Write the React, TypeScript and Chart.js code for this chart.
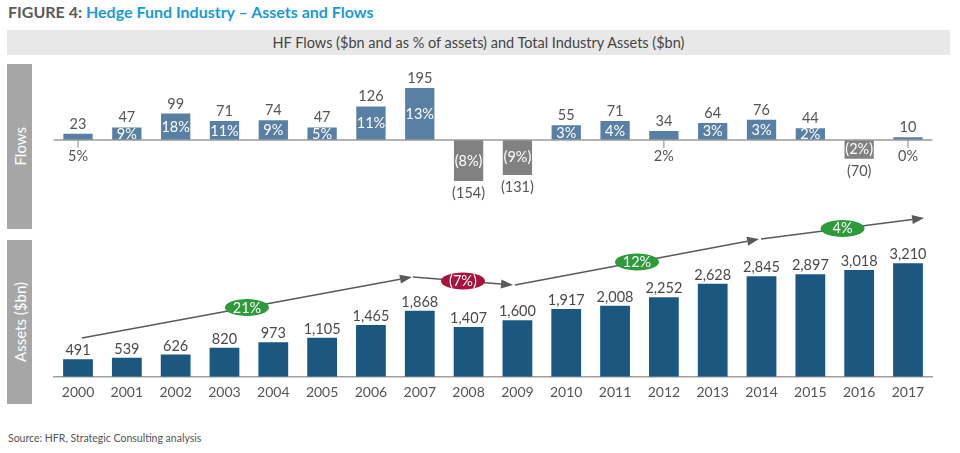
import React, { useEffect, useRef } from 'react';
import { Chart, registerables } from 'chart.js';

Chart.register(...registerables);

const FONT = 'Lato, "Noto Sans", sans-serif';

const years = ['2000', '2001', '2002', '2003', '2004', '2005', '2006', '2007', '2008', '2009', '2010', '2011', '2012', '2013', '2014', '2015', '2016', '2017'];
const flows = [23, 47, 99, 71, 74, 47, 126, 195, -154, -131, 55, 71, 34, 64, 76, 44, -70, 10];
const flowPct = [5, 9, 18, 11, 9, 5, 11, 13, -8, -9, 3, 4, 2, 3, 3, 2, -2, 0];
const assets = [491, 539, 626, 820, 973, 1105, 1465, 1868, 1407, 1600, 1917, 2008, 2252, 2628, 2845, 2897, 3018, 3210];

// CAGR arrows (category index positions and asset-scale levels)
const cagrLabels = ['21%', '(7%)', '12%', '4%'];
const cagrUp = [true, false, true, true];
const arrowStartIdx = [0.08, 6.86, 8.95, 13.99];
const arrowEndIdx = [6.84, 8.91, 13.95, 17.33];
const arrowStartLevel = [1095, 2822, 2596, 3898];
const arrowEndLevel = [2822, 2596, 3898, 4492];

const fmtNum = (v: number) => v.toLocaleString('en-US');

const flowLabelsPlugin = {
  id: 'flowLabels',
  afterDatasetsDraw(chart: any) {
    const ctx = chart.ctx;
    const meta = chart.getDatasetMeta(0);
    const y0 = chart.scales.y.getPixelForValue(0);
    ctx.save();
    ctx.strokeStyle = '#9a9a9a';
    ctx.lineWidth = 1.5;
    ctx.beginPath();
    ctx.moveTo(chart.chartArea.left, y0);
    ctx.lineTo(chart.chartArea.right, y0);
    ctx.stroke();
    ctx.font = `14.5px ${FONT}`;
    ctx.textAlign = 'center';
    ctx.textBaseline = 'alphabetic';
    meta.data.forEach((bar: any, i: number) => {
      const v = flows[i];
      const p = flowPct[i];
      const x = bar.x;
      const end = bar.y;
      const valTxt = v < 0 ? `(${-v})` : `${v}`;
      const pctTxt = p < 0 ? `(${-p}%)` : `${p}%`;
      ctx.fillStyle = '#555555';
      if (v >= 0) ctx.fillText(valTxt, x, end - 5);
      else ctx.fillText(valTxt, x, end + 17);
      if (Math.abs(v) >= 40) {
        ctx.fillStyle = '#ffffff';
        ctx.fillText(pctTxt, x, (end + y0) / 2 + 5);
      } else {
        ctx.strokeStyle = '#8a8a8a';
        ctx.lineWidth = 1;
        ctx.beginPath();
        ctx.moveTo(x, y0);
        ctx.lineTo(x, y0 + 8);
        ctx.stroke();
        ctx.fillStyle = '#555555';
        ctx.fillText(pctTxt, x, y0 + 21);
      }
    });
    ctx.restore();
  },
};

const assetLabelsPlugin = {
  id: 'assetLabels',
  afterDatasetsDraw(chart: any) {
    const ctx = chart.ctx;
    const meta = chart.getDatasetMeta(0);
    const xs = chart.scales.x;
    const ys = chart.scales.y;
    ctx.save();
    ctx.font = `14.5px ${FONT}`;
    ctx.textAlign = 'center';
    ctx.textBaseline = 'alphabetic';
    ctx.fillStyle = '#4a4a4a';
    meta.data.forEach((bar: any, i: number) => {
      ctx.fillText(fmtNum(assets[i]), bar.x, bar.y - 4);
    });
    // arrows
    for (let k = 0; k < cagrLabels.length; k++) {
      const x1 = xs.getPixelForValue(arrowStartIdx[k]);
      const y1 = ys.getPixelForValue(arrowStartLevel[k]);
      const x2 = xs.getPixelForValue(arrowEndIdx[k]);
      const y2 = ys.getPixelForValue(arrowEndLevel[k]);
      const ang = Math.atan2(y2 - y1, x2 - x1);
      const headLen = 12;
      const headW = 4.5;
      const bx = x2 - headLen * Math.cos(ang);
      const by = y2 - headLen * Math.sin(ang);
      ctx.strokeStyle = '#5a5a5a';
      ctx.fillStyle = '#5a5a5a';
      ctx.lineWidth = 1.5;
      ctx.beginPath();
      ctx.moveTo(x1, y1);
      ctx.lineTo(bx, by);
      ctx.stroke();
      ctx.beginPath();
      ctx.moveTo(x2, y2);
      ctx.lineTo(bx + headW * Math.sin(ang), by - headW * Math.cos(ang));
      ctx.lineTo(bx - headW * Math.sin(ang), by + headW * Math.cos(ang));
      ctx.closePath();
      ctx.fill();
      const mx = (x1 + x2) / 2;
      const my = (y1 + y2) / 2;
      ctx.fillStyle = cagrUp[k] ? '#2f9a3c' : '#a8123c';
      ctx.beginPath();
      ctx.ellipse(mx, my, 22, 8.5, 0, 0, Math.PI * 2);
      ctx.fill();
      ctx.fillStyle = '#ffffff';
      ctx.fillText(cagrLabels[k], mx, my + 5);
    }
    ctx.restore();
  },
};

export default function App() {
  const flowRef = useRef<HTMLCanvasElement>(null);
  const assetRef = useRef<HTMLCanvasElement>(null);

  useEffect(() => {
    const flowChart = new Chart(flowRef.current as HTMLCanvasElement, {
      type: 'bar',
      data: {
        labels: years,
        datasets: [
          {
            data: flows,
            backgroundColor: flows.map((v) => (v < 0 ? '#818181' : '#5a7fa4')),
            borderWidth: 0,
            categoryPercentage: 1,
            barPercentage: 0.6,
          },
        ],
      },
      options: {
        responsive: false,
        animation: false,
        layout: { padding: { left: 53.6, right: 27.6, top: 4, bottom: 12 } },
        plugins: { legend: { display: false }, tooltip: { enabled: false } },
        scales: {
          x: { display: false, offset: true },
          y: { display: false, min: -330, max: 285 },
        },
      },
      plugins: [flowLabelsPlugin],
    } as any);

    const assetChart = new Chart(assetRef.current as HTMLCanvasElement, {
      type: 'bar',
      data: {
        labels: years,
        datasets: [
          {
            data: assets,
            backgroundColor: '#1b577e',
            borderWidth: 0,
            categoryPercentage: 1,
            barPercentage: 0.61,
          },
        ],
      },
      options: {
        responsive: false,
        animation: false,
        layout: { padding: { left: 53.6, right: 27.6, top: 5, bottom: 2.5 } },
        plugins: { legend: { display: false }, tooltip: { enabled: false } },
        scales: {
          x: {
            offset: true,
            grid: { display: false, drawTicks: false },
            border: { display: true, color: '#a0a0a0', width: 1.5 },
            ticks: { color: '#555555', font: { family: FONT, size: 14 }, padding: 7, maxRotation: 0, autoSkip: false },
          },
          y: { display: false, min: 0, max: 4860 },
        },
      },
      plugins: [assetLabelsPlugin],
    } as any);

    return () => {
      flowChart.destroy();
      assetChart.destroy();
    };
  }, []);

  const sideBox: React.CSSProperties = {
    position: 'absolute',
    left: 7,
    width: 25,
    background: '#a6a6a6',
    color: '#ffffff',
    fontSize: 15,
    display: 'flex',
    alignItems: 'center',
    justifyContent: 'center',
  };
  const vText: React.CSSProperties = {
    writingMode: 'vertical-rl',
    transform: 'rotate(180deg)',
    whiteSpace: 'nowrap',
  };

  return (
    <div style={{ position: 'absolute', left: 0, top: 0, width: 960, height: 453, background: '#ffffff', fontFamily: FONT, overflow: 'hidden' }}>
      <div style={{ position: 'absolute', left: 8, top: 2, fontSize: 16, fontWeight: 700, lineHeight: '20px', whiteSpace: 'nowrap' }}>
        <span style={{ color: '#58595b' }}>FIGURE 4: </span>
        <span style={{ color: '#1c9ad6' }}>Hedge Fund Industry – Assets and Flows</span>
      </div>
      <div style={{ position: 'absolute', left: 7, top: 30, width: 943, height: 25, background: '#e8e8e8', color: '#444444', fontSize: 14.5, lineHeight: '25px', textAlign: 'center', whiteSpace: 'nowrap' }}>
        HF Flows ($bn and as % of assets) and Total Industry Assets ($bn)
      </div>
      <div style={{ ...sideBox, top: 64, height: 165 }}>
        <span style={vText}>Flows</span>
      </div>
      <div style={{ ...sideBox, top: 240, height: 164 }}>
        <span style={vText}>Assets ($bn)</span>
      </div>
      <canvas ref={assetRef} width={960} height={210} style={{ position: 'absolute', left: 0, top: 200, width: 960, height: 210 }} />
      <canvas ref={flowRef} width={960} height={180} style={{ position: 'absolute', left: 0, top: 60, width: 960, height: 180 }} />
      <div style={{ position: 'absolute', left: 8, top: 432, fontSize: 10.5, color: '#555555', whiteSpace: 'nowrap' }}>
        Source: HFR, Strategic Consulting analysis
      </div>
    </div>
  );
}
